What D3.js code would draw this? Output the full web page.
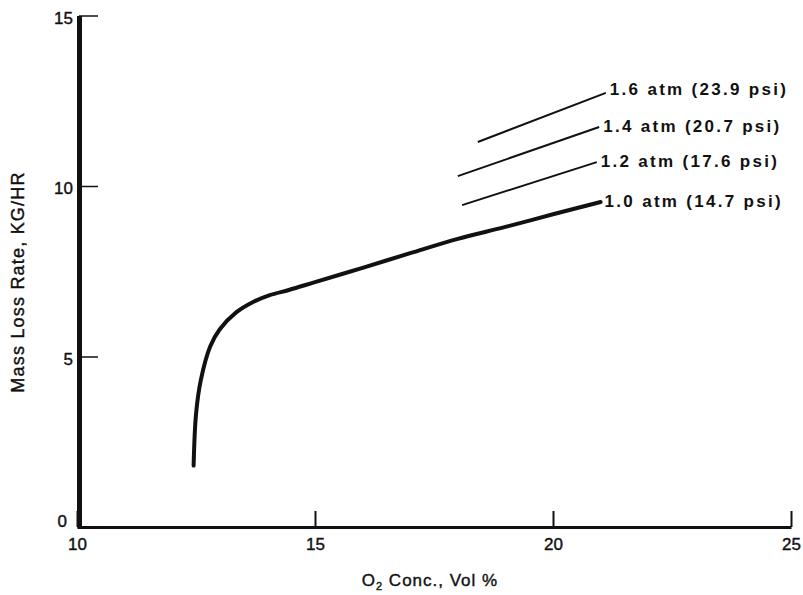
<!DOCTYPE html>
<html>
<head>
<meta charset="utf-8">
<script src="https://cdn.jsdelivr.net/npm/d3@7"></script>
<style>
	html, body { margin:0; padding:0; background:#ffffff; }
	svg text { font-family: "Liberation Sans", Arial, Helvetica, sans-serif; fill:#111; }
</style>
</head>
<body>
<div id="chart"></div>
<script>
// 1.0 atm curve, O2 vol % vs mass loss rate kg/hr
var curveX = [12.45, 12.5, 12.6, 12.8, 13.0, 13.35, 13.7, 14.05, 14.45, 15, 16, 17, 18, 19, 20, 21.0];
var curveY = [1.8, 3.3, 4.3, 5.3, 5.8, 6.3, 6.6, 6.8, 6.95, 7.18, 7.6, 8.03, 8.45, 8.8, 9.17, 9.53];

// short lines for the higher pressures: [x0, x1], [y0, y1]
var pressLabels = ['1.6 atm (23.9 psi)', '1.4 atm (20.7 psi)', '1.2 atm (17.6 psi)', '1.0 atm (14.7 psi)'];
var pressX = [[18.42, 21.11], [18.0, 20.97], [18.09, 20.92], null];
var pressY = [[11.29, 12.73], [10.29, 11.73], [9.44, 10.70], null];

var xTicks = [10, 15, 20, 25];
var yTicks = [0, 5, 10, 15];

var W = 803, H = 595;
var x0 = 77, x1 = 791;     //x軸 10..25
var y0 = 527, y1 = 15.5;   //y軸 0..15

var svg = d3.select('#chart').append('svg')
	.attr('width', W)
	.attr('height', H);

var x = d3.scaleLinear().domain([10, 25]).range([x0, x1]);
var y = d3.scaleLinear().domain([0, 15]).range([y0, y1]);

//x axis
var gx = svg.append('g')
	.attr('transform', 'translate(0,' + y0 + ')')
	.call(d3.axisBottom(x).tickValues(xTicks).tickSizeInner(-16).tickSizeOuter(0).tickPadding(7));
gx.select('.domain').attr('stroke', '#111').attr('stroke-width', 3);
gx.selectAll('.tick line').attr('stroke', '#111').attr('stroke-width', 2);
gx.selectAll('.tick text')
	.attr('font-size', '17px')
	.attr('fill', '#111')
	.attr('stroke', '#111')
	.attr('stroke-width', 0.4)
	.attr('dy', '0.95em')
	.attr('font-family', '"Liberation Sans", Arial, sans-serif');

//y axis
var gy = svg.append('g')
	.attr('transform', 'translate(' + (x0 + 2) + ',0)')
	.call(d3.axisLeft(y).tickValues(yTicks).tickSizeInner(-19).tickSizeOuter(0).tickPadding(6));
gy.select('.domain').attr('stroke', '#111').attr('stroke-width', 5);
gy.selectAll('.tick line').attr('stroke', '#111').attr('stroke-width', 1.5);
gy.selectAll('.tick text')
	.attr('font-size', '17px')
	.attr('fill', '#111')
	.attr('stroke', '#111')
	.attr('stroke-width', 0.4)
	.attr('font-family', '"Liberation Sans", Arial, sans-serif')
	.attr('dx', function(d){ return d === 0 ? -6 : 0; })
	.attr('dy', function(d){ return d === 0 ? '-0.05em' : '0.45em'; });

//main curve
var pts = curveX.map(function(v, i){ return [v, curveY[i]]; });
svg.append('path')
	.datum(pts)
	.attr('d', d3.line().x(function(d){ return x(d[0]); }).y(function(d){ return y(d[1]); }).curve(d3.curveCatmullRom.alpha(0.5)))
	.attr('fill', 'none')
	.attr('stroke', '#111')
	.attr('stroke-width', 4)
	.attr('stroke-linecap', 'round');

//pressure lines + labels
for (var i = 0; i < pressLabels.length; i++) {
	var ex, ey;
	if (pressX[i]) {
		svg.append('line')
			.attr('x1', x(pressX[i][0]))
			.attr('y1', y(pressY[i][0]))
			.attr('x2', x(pressX[i][1]))
			.attr('y2', y(pressY[i][1]))
			.attr('stroke', '#111')
			.attr('stroke-width', 2);
		ex = pressX[i][1]; ey = pressY[i][1];
	} else {
		ex = curveX[curveX.length - 1]; ey = curveY[curveY.length - 1];
	}
	svg.append('text')
		.attr('x', x(ex) + 4)
		.attr('y', y(ey) + (i === 0 ? 2 : 5))
		.attr('font-size', '17px')
		.attr('font-weight', 'bold')
		.attr('letter-spacing', '2.3px')
		.text(pressLabels[i]);
}

//axis titles
var xt = svg.append('text')
	.attr('x', 430)
	.attr('y', 586)
	.attr('text-anchor', 'middle')
	.attr('font-size', '17px')
	.attr('stroke', '#111')
	.attr('stroke-width', 0.4)
	.attr('letter-spacing', '1px');
xt.append('tspan').text('O');
xt.append('tspan').attr('font-size', '11px').attr('dy', '4').text('2');
xt.append('tspan').attr('dy', '-4').text(' Conc., Vol %');

svg.append('text')
	.attr('transform', 'translate(24,282) rotate(-90)')
	.attr('text-anchor', 'middle')
	.attr('font-size', '18px')
	.attr('stroke', '#111')
	.attr('stroke-width', 0.4)
	.attr('letter-spacing', '1.2px')
	.text('Mass Loss Rate, KG/HR');
</script>
</body>
</html>
